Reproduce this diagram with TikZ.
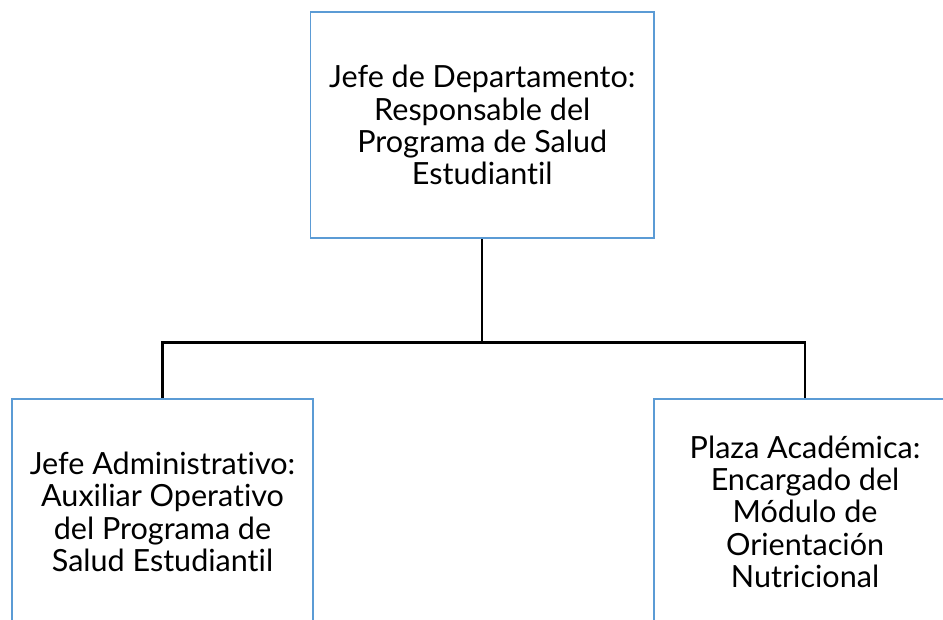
\documentclass[tikz,border=0pt]{standalone}
\usepackage{fontspec}
\setmainfont{Lato}[Ligatures=NoCommon]
\usepackage{tikz}

\definecolor{boxblue}{RGB}{91,155,213}
\tikzset{
  cargo/.style={draw=boxblue, line width=1.5pt, align=center, inner sep=0pt,
    font=\fontsize{23}{24.4}\selectfont, minimum height=5.99cm},
  linea/.style={draw=black, line width=1.6pt}
}

\begin{document}
\begin{tikzpicture}
\useasboundingbox (0cm,0cm) rectangle (24.95cm,-16.38cm);
\clip (0cm,0cm) rectangle (24.95cm,-16.38cm);
\node[cargo, minimum width=9.09cm] (jefe) at (12.76cm,-3.31cm) {Jefe de Departamento:\\Responsable del\\Programa de Salud\\Estudiantil};
\node[cargo, minimum width=7.98cm] (admin) at (4.30cm,-13.54cm) {Jefe Administrativo:\\Auxiliar Operativo\\del Programa de\\Salud Estudiantil};
\node[cargo, minimum width=8.0cm] (plaza) at (21.30cm,-13.54cm) {Plaza Acad\'emica:\\Encargado del\\M\'odulo de\\Orientaci\'on\\Nutricional};
\coordinate (bus) at (12.76cm,-9.06cm);
\draw[linea] (jefe.south) -- (bus);
\draw[linea] (bus) -| (admin.north);
\draw[linea] (bus) -| (plaza.north);
\end{tikzpicture}
\end{document}
